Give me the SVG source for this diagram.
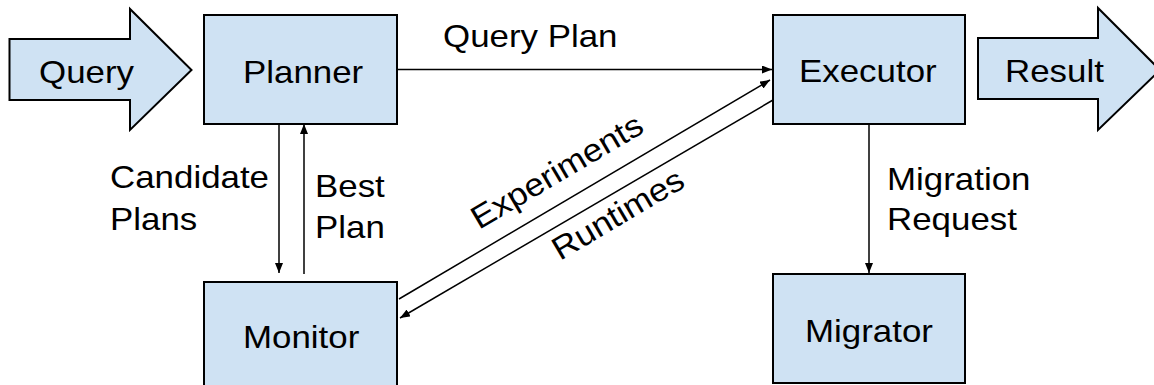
<svg xmlns="http://www.w3.org/2000/svg" width="1154" height="385" viewBox="0 0 1154 385">
<style>
.box{fill:#cfe2f3;stroke:#000;stroke-width:2}
.con{fill:none;stroke:#000;stroke-width:1.5}
text{font-family:"Liberation Sans",Arial,sans-serif;font-size:32px;fill:#000}
</style>
<defs>
<marker id="ah" viewBox="0 0 10 8" refX="10" refY="4" markerWidth="10" markerHeight="8" markerUnits="userSpaceOnUse" orient="auto">
<path d="M0,0 L10,4 L0,8 z" fill="#000"/>
</marker>
</defs>
<rect width="1154" height="385" fill="#fff"/>
<g id="query">
<path class="box" d="M9.5,39 L130,39 L130,9 L191.5,70 L130,130 L130,100 L9.5,100 Z"/>
<text transform="translate(39,83) scale(1.09,1)">Query</text>
</g>
<g id="planner">
<rect class="box" x="204" y="15" width="193" height="109"/>
<text transform="translate(243,83) scale(1.09,1)">Planner</text>
</g>
<g id="executor">
<rect class="box" x="773" y="15" width="192" height="109"/>
<text transform="translate(799,82) scale(1.09,1)">Executor</text>
</g>
<g id="result">
<path class="box" d="M978,38 L1098,38 L1098,8 L1160,70 L1098,130 L1098,99 L978,99 Z"/>
<text transform="translate(1005,82) scale(1.09,1)">Result</text>
</g>
<g id="monitor">
<rect class="box" x="204" y="282" width="193" height="109"/>
<text transform="translate(243,348) scale(1.09,1)">Monitor</text>
</g>
<g id="migrator">
<rect class="box" x="773" y="274" width="192" height="109"/>
<text transform="translate(805,342) scale(1.09,1)">Migrator</text>
</g>
<g id="connectors">
<line class="con" x1="397" y1="69.5" x2="772" y2="69.5" marker-end="url(#ah)"/>
<line class="con" x1="279" y1="124" x2="279" y2="273" marker-end="url(#ah)"/>
<line class="con" x1="304" y1="274" x2="304" y2="124" marker-end="url(#ah)"/>
<line class="con" x1="399" y1="299" x2="770" y2="80" marker-end="url(#ah)"/>
<line class="con" x1="773" y1="100" x2="400" y2="318" marker-end="url(#ah)"/>
<line class="con" x1="869" y1="124" x2="869" y2="273" marker-end="url(#ah)"/>
<text transform="translate(443,47) scale(1.09,1)">Query Plan</text>
<text transform="translate(110,188) scale(1.09,1)">Candidate</text>
<text transform="translate(110,230) scale(1.09,1)">Plans</text>
<text transform="translate(315,197) scale(1.09,1)">Best</text>
<text transform="translate(315,238) scale(1.09,1)">Plan</text>
<text transform="translate(887,190) scale(1.09,1)">Migration</text>
<text transform="translate(887,230) scale(1.09,1)">Request</text>
<text transform="translate(479,230) rotate(-30.6) scale(1.09,1)">Experiments</text>
<text transform="translate(560,261) rotate(-30.6) scale(1.09,1)">Runtimes</text>
</g>
</svg>
